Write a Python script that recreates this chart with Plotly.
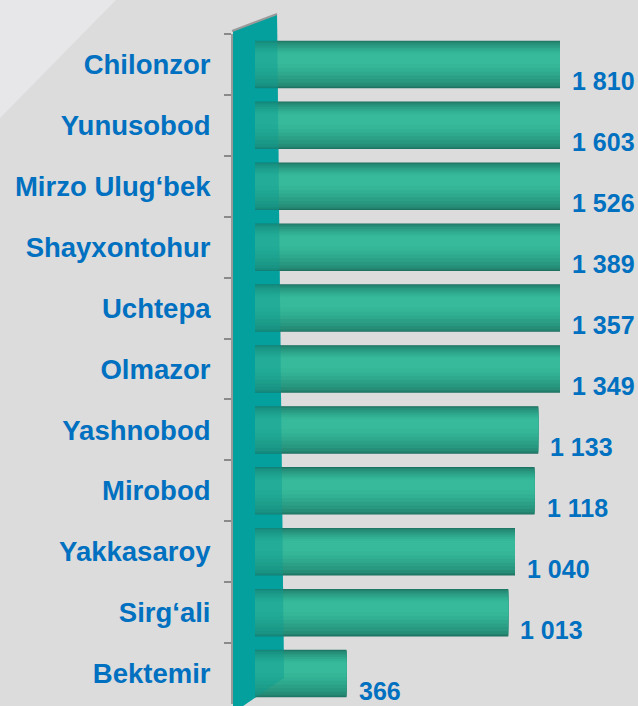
import plotly.graph_objects as go

# ---- data ----
districts = ["Chilonzor", "Yunusobod", "Mirzo Ulug‘bek", "Shayxontohur", "Uchtepa",
             "Olmazor", "Yashnobod", "Mirobod", "Yakkasaroy", "Sirg‘ali", "Bektemir"]
values = [1810, 1603, 1526, 1389, 1357, 1349, 1133, 1118, 1040, 1013, 366]
value_labels = [f"{v:,}".replace(",", " ") for v in values]

# ---- layout constants (pixels) ----
W, H = 638, 706
PLOT_TOP, PLOT_BOT = 34, 704
X0_PX, X1_PX = 255, 560
AXIS_PX = 232
XMAX = 1220
BLUE = "#0070C0"
FONT = "Liberation Sans"


def px(x):
    return x / W


def py(y):
    return (PLOT_BOT - y) / (PLOT_BOT - PLOT_TOP)


def path(points):
    return "M " + " L ".join(f"{px(x):.5f},{py(y):.5f}" for x, y in points) + " Z"


fig = go.Figure()

# cylinder-like shading: nested overlay bands (offset/width in category units)
bands = [(-0.39, 0.78, "#1d6f60"),
         (-0.38, 0.755, "#22806c"),
         (-0.36, 0.71, "#268d77"),
         (-0.33, 0.63, "#299880"),
         (-0.30, 0.54, "#2ca086"),
         (-0.27, 0.45, "#2fa98d"),
         (-0.24, 0.36, "#32b093"),
         (-0.21, 0.27, "#35b697"),
         (-0.18, 0.17, "#37ba9b")]
for off, wid, col in bands:
    fig.add_trace(go.Bar(
        x=values, y=districts, orientation="h",
        offset=off, width=wid,
        marker=dict(color=col, line=dict(width=0)),
        hoverinfo="skip", showlegend=False,
    ))

# value labels at the bar ends
annotations = []
for d, v, t in zip(districts, values, value_labels):
    annotations.append(dict(
        x=min(v, XMAX), y=d, xref="x", yref="y",
        text=f"<b>{t}</b>", showarrow=False,
        xanchor="left", yanchor="middle", xshift=10, yshift=-17,
        font=dict(family=FONT, size=25, color=BLUE),
    ))

wall = [(233, 31), (277, 14), (284, 678), (243, 706), (233, 706)]
shapes = [
    # light diagonal at top-left of background
    dict(type="path", xref="paper", yref="paper", layer="below",
         path=path([(0, 0), (116, 0), (0, 118)]),
         fillcolor="#e7e7e9", line=dict(width=0)),
    # teal wall
    dict(type="path", xref="paper", yref="paper", layer="below",
         path=path(wall), fillcolor="#03a4a5", line=dict(width=0)),
    # translucent front of wall over the bars
    dict(type="path", xref="paper", yref="paper", layer="above",
         path=path(wall), fillcolor="#079a94", opacity=0.42, line=dict(width=0)),
    # top edge of wall
    dict(type="line", xref="paper", yref="paper", layer="above",
         x0=px(232), y0=py(31), x1=px(277), y1=py(14),
         line=dict(color="#9a9a9a", width=2)),
]

fig.update_layout(
    width=W, height=H,
    margin=dict(l=0, r=0, t=PLOT_TOP, b=H - PLOT_BOT, pad=0),
    paper_bgcolor="#dcdcdc", plot_bgcolor="rgba(0,0,0,0)",
    barmode="overlay",
    showlegend=False,
    xaxis=dict(domain=[px(X0_PX), px(X1_PX)], range=[0, XMAX],
               visible=False, fixedrange=True),
    yaxis=dict(type="category", categoryorder="array", categoryarray=districts,
               range=[len(districts) - 0.5, -0.5],
               anchor="free", position=px(AXIS_PX),
               showline=True, linecolor="#9a9a9a", linewidth=2,
               ticks="outside", tickson="boundaries", ticklen=7,
               tickcolor="#8a8a8a", tickwidth=1.5,
               showgrid=False, zeroline=False,
               ticklabelstandoff=15,
               tickfont=dict(family=FONT, size=27.5, color=BLUE, weight="bold")),
    annotations=annotations,
    shapes=shapes,
)

fig.write_html(
    "out.html",
    config={"displayModeBar": False},
    post_script="document.body.style.margin='0';document.body.style.overflow='hidden';",
)
